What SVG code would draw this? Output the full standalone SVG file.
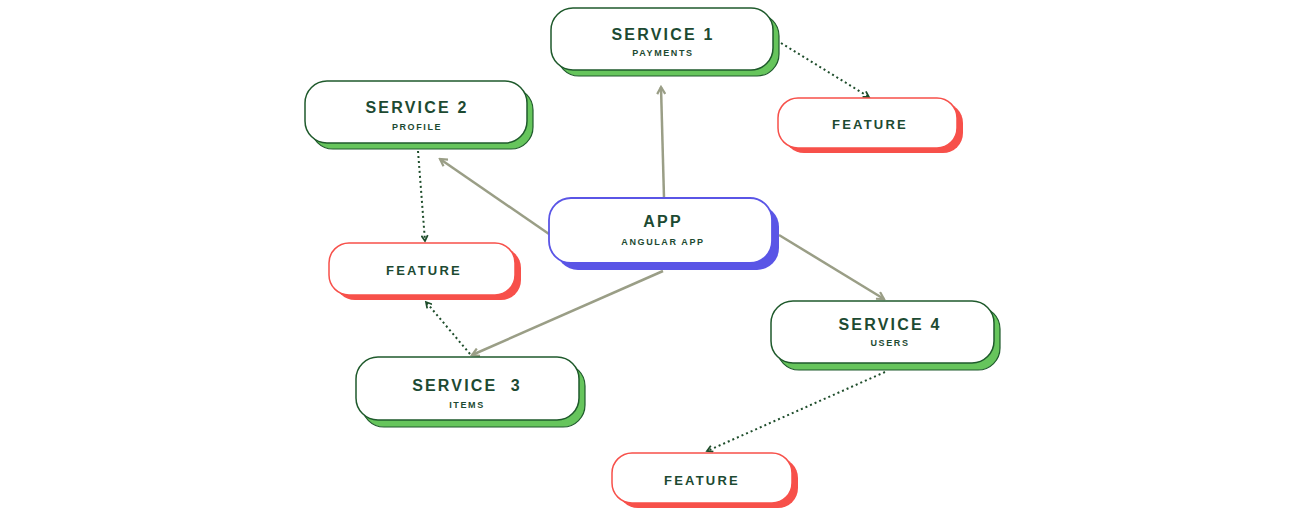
<svg xmlns="http://www.w3.org/2000/svg" width="1308" height="515" viewBox="0 0 1308 515">
<defs>
<style>
.shg{fill:#66c55c;stroke:#1f5a2c;stroke-width:1.2}
.shr{fill:#f7504a}
.shb{fill:#5a55e6}
.bg{fill:#fff;stroke:#1f5a2c;stroke-width:1.5}
.br{fill:#fff;stroke:#f7504a;stroke-width:1.5}
.bb{fill:#fff;stroke:#5a55e6;stroke-width:1.8}
.t{font-family:"Liberation Sans",Arial,sans-serif;font-weight:bold;fill:#1d4a32;text-anchor:middle}
.ti{font-size:16px;letter-spacing:2.2px}
.su{font-size:9px;letter-spacing:1.6px}
.fe{font-size:13px;letter-spacing:2.2px}
.sol{stroke:#9a9e86;stroke-width:2.5;fill:none}
.dot{stroke:#1e4d2b;stroke-width:2;stroke-dasharray:2 3;fill:none}
</style>
<marker id="ag" viewBox="0 0 10 10" refX="8" refY="5" markerWidth="4" markerHeight="4" orient="auto" markerUnits="strokeWidth">
<path d="M1,1 L8,5 L1,9" fill="none" stroke="#9a9e86" stroke-width="2.2"/>
</marker>
<marker id="ad" viewBox="0 0 10 10" refX="8" refY="5" markerWidth="4" markerHeight="4" orient="auto" markerUnits="strokeWidth">
<path d="M1,1 L8,5 L1,9" fill="none" stroke="#1e4d2b" stroke-width="2.2"/>
</marker>
</defs>
<rect width="1308" height="515" fill="#fff"/>
<g id="connectors">
<line class="sol" x1="664" y1="198" x2="661" y2="87" marker-end="url(#ag)"/>
<line class="sol" x1="549" y1="234" x2="440" y2="159" marker-end="url(#ag)"/>
<line class="sol" x1="779" y1="235" x2="884" y2="299" marker-end="url(#ag)"/>
<line class="sol" x1="663" y1="271" x2="472" y2="355" marker-end="url(#ag)"/>
<line class="dot" x1="781" y1="43" x2="869" y2="97" marker-end="url(#ad)"/>
<line class="dot" x1="418" y1="151" x2="425" y2="241" marker-end="url(#ad)"/>
<line class="dot" x1="470" y1="354" x2="426" y2="302" marker-end="url(#ad)"/>
<line class="dot" x1="885" y1="372" x2="707" y2="451" marker-end="url(#ad)"/>
</g>
<g id="service1">
<rect class="shg" x="557" y="14" width="222" height="62" rx="22"/>
<rect class="bg" x="551" y="8" width="222" height="62" rx="22"/>
<text class="t ti" x="663" y="40">SERVICE 1</text>
<text class="t su" x="663" y="56">PAYMENTS</text>
</g>
<g id="service2">
<rect class="shg" x="311" y="88" width="222" height="61" rx="22"/>
<rect class="bg" x="305" y="81" width="222" height="62" rx="22"/>
<text class="t ti" x="417" y="113">SERVICE 2</text>
<text class="t su" x="417" y="130">PROFILE</text>
</g>
<g id="app">
<rect class="shb" x="556" y="205" width="223" height="65" rx="22"/>
<rect class="bb" x="549" y="198" width="223" height="65" rx="22"/>
<text class="t ti" x="663" y="227">APP</text>
<text class="t su" x="663" y="245">ANGULAR APP</text>
</g>
<g id="feature-left">
<rect class="shr" x="335" y="248" width="186" height="52" rx="20"/>
<rect class="br" x="329" y="243" width="186" height="52" rx="20"/>
<text class="t fe" x="424" y="275">FEATURE</text>
</g>
<g id="service3">
<rect class="shg" x="362" y="364" width="223" height="63" rx="22"/>
<rect class="bg" x="356" y="357" width="223" height="63" rx="22"/>
<text class="t ti" x="467" y="391" xml:space="preserve">SERVICE  3</text>
<text class="t su" x="467" y="408">ITEMS</text>
</g>
<g id="service4">
<rect class="shg" x="777" y="307" width="223" height="63" rx="22"/>
<rect class="bg" x="771" y="301" width="223" height="62" rx="22"/>
<text class="t ti" x="890" y="330">SERVICE 4</text>
<text class="t su" x="890" y="346">USERS</text>
</g>
<g id="feature-top">
<rect class="shr" x="784" y="103" width="179" height="50" rx="20"/>
<rect class="br" x="778" y="98" width="179" height="50" rx="20"/>
<text class="t fe" x="870" y="129">FEATURE</text>
</g>
<g id="feature-bottom">
<rect class="shr" x="618" y="458" width="180" height="50" rx="20"/>
<rect class="br" x="612" y="453" width="180" height="50" rx="20"/>
<text class="t fe" x="702" y="485">FEATURE</text>
</g>
</svg>
